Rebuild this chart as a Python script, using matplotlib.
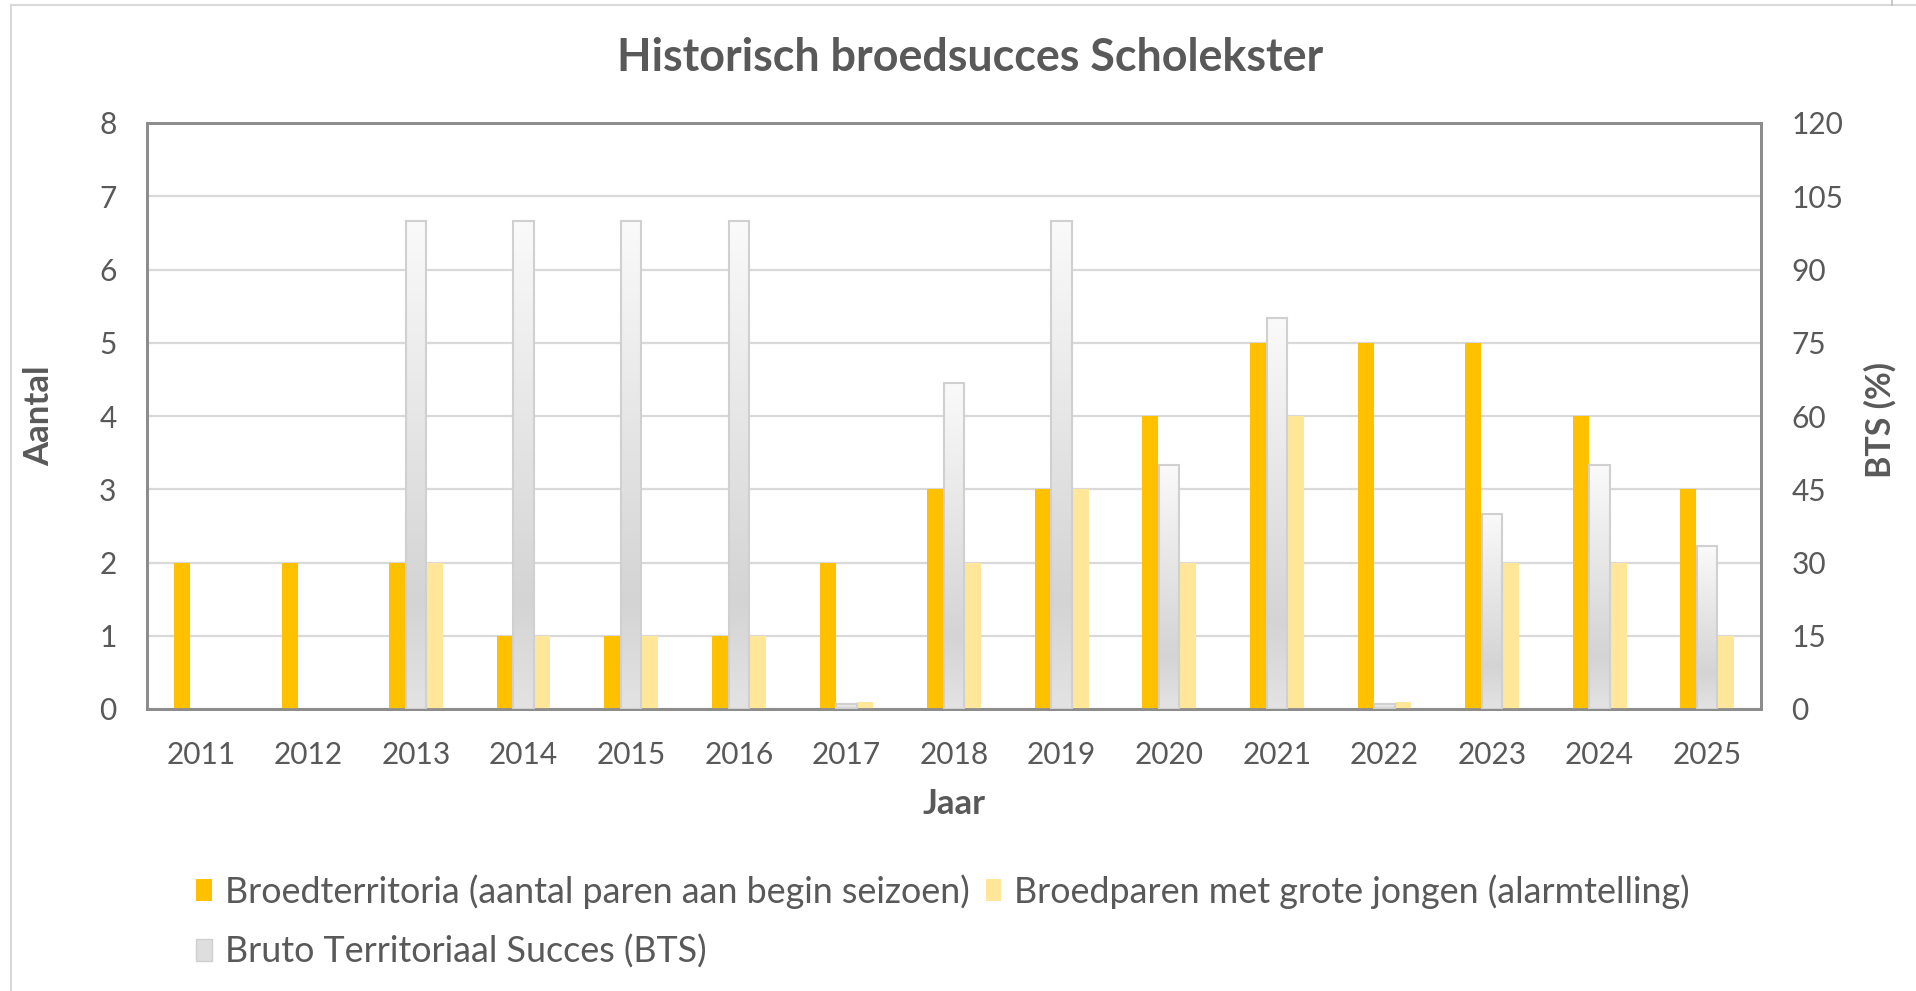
import numpy as np
import matplotlib
matplotlib.use("Agg")
import matplotlib.pyplot as plt
from matplotlib.patches import Patch
from matplotlib.colors import LinearSegmentedColormap
from matplotlib.lines import Line2D

# ---------------- data ----------------
years = ["2011", "2012", "2013", "2014", "2015", "2016", "2017", "2018",
         "2019", "2020", "2021", "2022", "2023", "2024", "2025"]
territoria = [2, 2, 2, 1, 1, 1, 2, 3, 3, 4, 5, 5, 5, 4, 3]
grote_jongen = [np.nan, np.nan, 2, 1, 1, 1, 0.1, 2, 3, 2, 4, 0.1, 2, 2, 1]
bts = [np.nan, np.nan, 100, 100, 100, 100, 1, 66.7, 100, 50, 80, 1, 40, 50, 33.3]

title = "Historisch broedsucces Scholekster"
label_terr = "Broedterritoria (aantal paren aan begin seizoen)"
label_jong = "Broedparen met grote jongen (alarmtelling)"
label_bts = "Bruto Territoriaal Succes (BTS)"
left_ticks = [0, 1, 2, 3, 4, 5, 6, 7, 8]
right_ticks = [0, 15, 30, 45, 60, 75, 90, 105, 120]

# ---------------- style ----------------
FONT = "Lato"
TXT = "#595959"
ORANGE = "#FFC000"
YELLOW = "#FFE699"
plt.rcParams["font.family"] = [FONT, "DejaVu Sans"]

W, H = 1916, 991
fig = plt.figure(figsize=(W / 100, H / 100), dpi=100)
fig.patch.set_facecolor("white")

# outer chart frame (light grey)
fig.add_artist(Line2D([11 / W, 11 / W], [0, 1 - 5 / H], transform=fig.transFigure,
                      color="#D9D9D9", lw=1.5))
fig.add_artist(Line2D([11 / W, 1], [1 - 5 / H, 1 - 5 / H], transform=fig.transFigure,
                      color="#D9D9D9", lw=1.5))
fig.add_artist(Line2D([1892 / W, 1892 / W], [1 - 5 / H, 1], transform=fig.transFigure,
                      color="#BFBFBF", lw=1.2))

left, right, top, bottom = 147, 1761, 123, 709
ax = fig.add_axes([left / W, 1 - bottom / H, (right - left) / W, (bottom - top) / H])
ax2 = ax.twinx()

x = np.arange(len(years))
off = 0.175
w_side = 0.15
w_mid = 0.19

ax.bar(x - off, territoria, width=w_side, color=ORANGE, zorder=3)
ax.bar(x + off, grote_jongen, width=w_side, color=YELLOW, zorder=3)

bars = ax2.bar(x, bts, width=w_mid, facecolor="none", edgecolor="#D0D0D0",
               linewidth=1.5, zorder=4)

cmap = LinearSegmentedColormap.from_list(
    "g", [(0.0, "#FAFAFA"), (0.78, "#D4D4D4"), (1.0, "#E3E3E3")])
grad = np.linspace(0, 1, 256).reshape(-1, 1)
for b in bars:
    h = b.get_height()
    if not np.isfinite(h) or h <= 0:
        continue
    x0 = b.get_x()
    im = ax2.imshow(grad, cmap=cmap, aspect="auto", origin="upper",
                    extent=[x0, x0 + b.get_width(), 0, h], zorder=3.5,
                    interpolation="bilinear")
    im.set_clip_path(b)

ax.set_xlim(-0.5, len(years) - 0.5)
ax2.set_xlim(-0.5, len(years) - 0.5)
ax.set_ylim(0, 8)
ax2.set_ylim(0, 120)
ax.set_yticks(left_ticks)
ax2.set_yticks(right_ticks)
ax.set_xticks(x)
ax.set_xticklabels(years)

ax.set_axisbelow(True)
ax.grid(axis="y", color="#D9D9D9", lw=1.6)
ax.tick_params(axis="both", length=0, labelsize=21.5, labelcolor=TXT)
ax.tick_params(axis="x", pad=23)
ax.tick_params(axis="y", pad=22)
ax2.tick_params(axis="y", length=0, labelsize=21.5, labelcolor=TXT, pad=22)

for a in (ax, ax2):
    for s in a.spines.values():
        s.set_color("#8C8C8C")
        s.set_linewidth(2)

fig.text(970 / W, 1 - 58 / H, title, ha="center", va="center",
         fontsize=32.3, fontweight="bold", color=TXT)
fig.text(39 / W, 1 - 416 / H, "Aantal", rotation=90, ha="center", va="center",
         fontsize=25, fontweight="bold", color=TXT)
fig.text(1880 / W, 1 - 420 / H, "BTS (%)", rotation=90, ha="center", va="center",
         fontsize=24.5, fontweight="bold", color=TXT)
fig.text(954 / W, 1 - 804 / H, "Jaar", ha="center", va="center",
         fontsize=25, fontweight="bold", color=TXT)

handles = [Patch(facecolor=ORANGE, edgecolor="none"),
           Patch(facecolor="#DEDEDE", edgecolor="#CFCFCF"),
           Patch(facecolor=YELLOW, edgecolor="none")]
labels = [label_terr, label_bts, label_jong]
leg = fig.legend(handles, labels, ncol=2, loc="upper left",
                 bbox_to_anchor=(196 / W, 1 - 874 / H), frameon=False,
                 fontsize=25.8, handlelength=0.44, handleheight=0.58,
                 handletextpad=0.36, columnspacing=0.45, labelspacing=0.72,
                 borderpad=0, borderaxespad=0)
for t in leg.get_texts():
    t.set_color(TXT)

fig.savefig("out.png", dpi=100, facecolor="white")
